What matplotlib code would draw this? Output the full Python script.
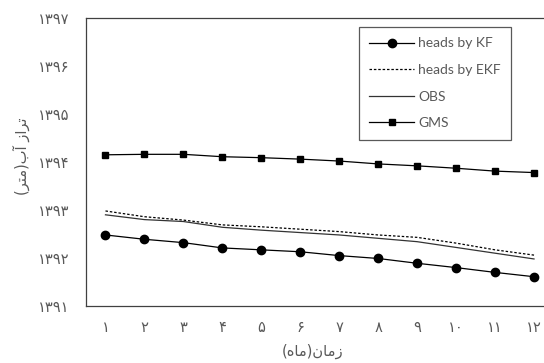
import matplotlib
matplotlib.use('Agg')
import matplotlib.pyplot as plt

# --- data ---
months = [1, 2, 3, 4, 5, 6, 7, 8, 9, 10, 11, 12]
heads_kf = [1392.48, 1392.39, 1392.32, 1392.21, 1392.17, 1392.13,
            1392.05, 1391.99, 1391.89, 1391.80, 1391.70, 1391.61]
heads_ekf = [1392.98, 1392.86, 1392.79, 1392.69, 1392.65, 1392.60,
             1392.55, 1392.48, 1392.43, 1392.31, 1392.17, 1392.06]
obs = [1392.90, 1392.80, 1392.76, 1392.64, 1392.58, 1392.53,
       1392.48, 1392.41, 1392.34, 1392.22, 1392.10, 1391.98]
gms = [1394.15, 1394.16, 1394.16, 1394.11, 1394.09, 1394.06,
       1394.02, 1393.96, 1393.92, 1393.87, 1393.81, 1393.78]

y_ticks = [1391, 1392, 1393, 1394, 1395, 1396, 1397]
y_tick_labels = ['۱۳۹۱', '۱۳۹۲', '۱۳۹۳', '۱۳۹۴', '۱۳۹۵', '۱۳۹۶', '۱۳۹۷']
x_tick_labels = ['۱', '۲', '۳', '۴', '۵', '۶', '۷', '۸', '۹', '۱۰', '۱۱', '۱۲']
x_label = 'زمان(ماه)'
y_label = 'تراز آب(متر)'

# --- minimal arabic shaping (matplotlib has no bidi / joining) ---
FORMS = {
    'ز': ('\uFEAF', '\uFEB0'),
    'ا': ('\uFE8D', '\uFE8E'),
    'آ': ('\uFE81', '\uFE82'),
    'ر': ('\uFEAD', '\uFEAE'),
    'م': ('\uFEE1', '\uFEE2', '\uFEE3', '\uFEE4'),
    'ن': ('\uFEE5', '\uFEE6', '\uFEE7', '\uFEE8'),
    'ه': ('\uFEE9', '\uFEEA', '\uFEEB', '\uFEEC'),
    'ت': ('\uFE95', '\uFE96', '\uFE97', '\uFE98'),
    'ب': ('\uFE8F', '\uFE90', '\uFE91', '\uFE92'),
}


def rtl(text):
    out = []
    for i, ch in enumerate(text):
        if ch not in FORMS:
            out.append(ch)
            continue
        prev = text[i - 1] if i > 0 else ''
        nxt = text[i + 1] if i + 1 < len(text) else ''
        join_prev = prev in FORMS and len(FORMS[prev]) == 4
        join_next = len(FORMS[ch]) == 4 and nxt in FORMS
        f = FORMS[ch]
        if join_prev and join_next:
            out.append(f[3])
        elif join_prev:
            out.append(f[1])
        elif join_next:
            out.append(f[2])
        else:
            out.append(f[0])
    s = ''.join(out)[::-1]
    return s.translate(str.maketrans('()', ')('))


grey = '#595959'
plt.rcParams['font.family'] = ['DejaVu Sans']

fig = plt.figure(figsize=(5.44, 3.63), dpi=100)
ax = fig.add_axes([86 / 544, 1 - 306 / 363, 467.5 / 544, 288 / 363])

ax.plot(months, heads_kf, color='black', linewidth=0.9, marker='o', markersize=6, label='heads by KF')
ax.plot(months, heads_ekf, color='black', linewidth=0.9, linestyle=(0, (2, 1.5)), label='heads by EKF')
ax.plot(months, obs, color='#333333', linewidth=0.9, label='OBS')
ax.plot(months, gms, color='black', linewidth=0.9, marker='s', markersize=5, label='GMS')

ax.set_xlim(0.5, 12.5)
ax.set_ylim(1391, 1397)
ax.set_yticks(y_ticks)
ax.set_yticklabels(y_tick_labels)
ax.set_xticks(months)
ax.set_xticklabels(x_tick_labels)
ax.tick_params(axis='both', length=0, colors=grey, labelsize=10.5)
ax.tick_params(axis='y', pad=12)
ax.tick_params(axis='x', pad=10)

for side in ['left', 'bottom', 'top']:
    ax.spines[side].set_color('#404040')
    ax.spines[side].set_linewidth(0.9)
ax.spines['right'].set_visible(False)

ax.set_xlabel(rtl(x_label), fontsize=10.5, color=grey)
ax.xaxis.set_label_coords((313 - 86) / 467.5, -38 / 288)
ax.set_ylabel(rtl(y_label), fontsize=10.5, color=grey)
ax.yaxis.set_label_coords(-56 / 467.5, 0.52)

leg = ax.legend(loc='upper left', bbox_to_anchor=(359 / 544, 1 - 27 / 363),
                bbox_transform=fig.transFigure, borderaxespad=0,
                prop={'family': 'Lato', 'size': 10}, handlelength=3.2,
                handletextpad=0.3, labelspacing=1.05, borderpad=0.75,
                fancybox=False, framealpha=1)
leg.get_frame().set_edgecolor('#595959')
leg.get_frame().set_linewidth(0.9)
for t in leg.get_texts():
    t.set_color(grey)

plt.savefig('out.png', dpi=100)
